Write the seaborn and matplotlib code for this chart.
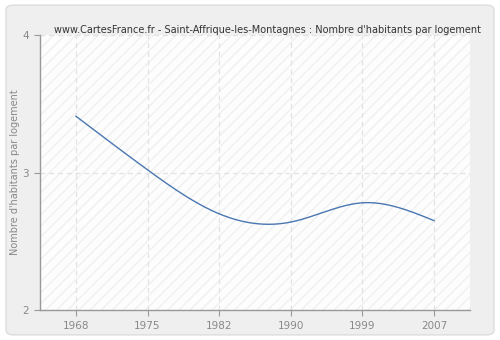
import numpy as np
import pandas as pd
import matplotlib
matplotlib.use("Agg")
import matplotlib.pyplot as plt
from matplotlib.patches import FancyBboxPatch, Rectangle
import seaborn as sns

years = ["1968", "1975", "1982", "1990", "1999", "2007"]
values = [3.41, 3.02, 2.70, 2.64, 2.78, 2.65]
yticks = [2, 3, 4]

title = "www.CartesFrance.fr - Saint-Affrique-les-Montagnes : Nombre d'habitants par logement"
ylabel = "Nombre d'habitants par logement"


def natural_spline(x, y, n=300):
    """Smooth curve through the points (natural cubic spline)."""
    x = np.asarray(x, float)
    y = np.asarray(y, float)
    k = len(x)
    h = np.diff(x)
    A = np.zeros((k, k))
    b = np.zeros(k)
    A[0, 0] = A[-1, -1] = 1.0
    for i in range(1, k - 1):
        A[i, i - 1] = h[i - 1]
        A[i, i] = 2 * (h[i - 1] + h[i])
        A[i, i + 1] = h[i]
        b[i] = 3 * ((y[i + 1] - y[i]) / h[i] - (y[i] - y[i - 1]) / h[i - 1])
    c = np.linalg.solve(A, b)
    xs = np.linspace(x[0], x[-1], n)
    idx = np.clip(np.searchsorted(x, xs, side="right") - 1, 0, k - 2)
    dx = xs - x[idx]
    bb = (y[idx + 1] - y[idx]) / h[idx] - h[idx] * (2 * c[idx] + c[idx + 1]) / 3
    dd = (c[idx + 1] - c[idx]) / (3 * h[idx])
    ys = y[idx] + bb * dx + c[idx] * dx ** 2 + dd * dx ** 3
    return xs, ys


sns.set_theme(style="white")
plt.rcParams["font.family"] = ["DejaVu Sans"]

fig = plt.figure(figsize=(5.0, 3.4), dpi=100, facecolor="white")
frame = FancyBboxPatch((0.012, 0.015), 0.976, 0.97,
                       boxstyle="round,pad=0,rounding_size=0.015",
                       transform=fig.transFigure, facecolor="#efefef",
                       edgecolor="#dddddd", linewidth=1.0, zorder=-10)
fig.patches.append(frame)

ax = fig.add_axes([0.08, 0.088, 0.86, 0.809])
ax.set_zorder(1)
ax.set_facecolor("#fafafa")
ax.add_patch(Rectangle((0, 0), 1, 1, transform=ax.transAxes, facecolor="#fdfdfd",
                       edgecolor="#f0f0f0", hatch="///", linewidth=0, zorder=0))

pos = np.arange(len(years))
xs, ys = natural_spline(pos, values)
curve = pd.DataFrame({"x": xs, "y": ys})
sns.lineplot(data=curve, x="x", y="y", ax=ax, color="#4a77b2", linewidth=1.0, zorder=3)

ax.set_xlim(-0.5, len(years) - 0.5)
ax.set_ylim(min(yticks), max(yticks))
ax.set_xticks(pos)
ax.set_xticklabels(years)
ax.set_yticks(yticks)
ax.set_xlabel("")
ax.set_ylabel(ylabel, color="#888888", fontsize=7.0)
ax.yaxis.set_label_coords(-0.047, 0.5)

for p in pos:
    ax.axvline(p, color="#e2e2e2", linestyle=(0, (4, 3)), linewidth=0.9, zorder=1)
for t in yticks:
    ax.axhline(t, color="#e2e2e2", linestyle=(0, (4, 3)), linewidth=0.9, zorder=1)

for side in ("top", "right"):
    ax.spines[side].set_visible(False)
for side in ("left", "bottom"):
    ax.spines[side].set_color("#999999")
    ax.spines[side].set_linewidth(1.0)
    ax.spines[side].set_zorder(4)

ax.tick_params(axis="both", which="major", direction="out", length=4, width=0.8,
               color="#999999", labelcolor="#888888", labelsize=7.5, pad=4,
               bottom=True, left=True)

fig.text(0.534, 0.912, title, ha="center", va="center", fontsize=7.0, color="#333333")

fig.savefig("out.png", dpi=100, facecolor=fig.get_facecolor())
